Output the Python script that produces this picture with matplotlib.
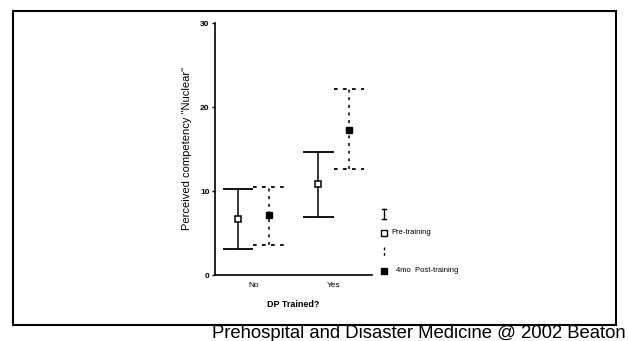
import matplotlib
matplotlib.use("Agg")
import matplotlib.pyplot as plt
from matplotlib.lines import Line2D
from matplotlib.patches import Rectangle

plt.rcParams["font.family"] = ["Liberation Sans", "DejaVu Sans"]

# data
groups = ["No", "Yes"]
pre_mean = [6.7, 10.8]
pre_low = [3.1, 6.9]
pre_high = [10.2, 14.6]
post_mean = [7.1, 17.3]
post_low = [3.6, 12.6]
post_high = [10.5, 22.2]
yticks = [0, 10, 20, 30]

W, H = 628, 341
fig = plt.figure(figsize=(W / 100, H / 100), dpi=100)
ax = fig.add_axes([215 / W, 1 - 275 / H, 157 / W, 252 / H])

off = 0.19
cap = 0.19
xs = list(range(len(groups)))
xpre = [x - off for x in xs]
xpost = [x + off for x in xs]

# pre-training: solid bars
ax.vlines(xpre, pre_low, pre_high, colors="black", lw=1.1)
ax.hlines(pre_low, [x - cap for x in xpre], [x + cap for x in xpre], colors="black", lw=1.3)
ax.hlines(pre_high, [x - cap for x in xpre], [x + cap for x in xpre], colors="black", lw=1.3)
ax.plot(xpre, pre_mean, "s", ms=5, mfc="white", mec="black", mew=1.1, zorder=3)

# post-training: dotted bars
ax.vlines(xpost, post_low, post_high, colors="black", lw=1.1, linestyles=(0, (2, 3)))
ax.hlines(post_low, [x - cap for x in xpost], [x + cap for x in xpost], colors="black", lw=1.3, linestyles=(0, (2, 3)))
ax.hlines(post_high, [x - cap for x in xpost], [x + cap for x in xpost], colors="black", lw=1.3, linestyles=(0, (2, 3)))
ax.plot(xpost, post_mean, "s", ms=4.5, mfc="black", mec="black", zorder=3)

ax.set_xlim(-0.48, 1.48)
ax.set_ylim(0, 30)
ax.set_xticks(xs)
ax.set_xticklabels(groups, fontsize=6)
ax.set_yticks(yticks)
ax.set_yticklabels([str(v) for v in yticks], fontsize=6, fontweight="bold")
ax.tick_params(axis="x", length=0, pad=5)
ax.tick_params(axis="y", length=2, width=1, pad=2)
for s in ["top", "right"]:
    ax.spines[s].set_visible(False)
ax.spines["left"].set_linewidth(1.2)
ax.spines["bottom"].set_linewidth(1.2)
ax.set_ylabel('Perceived competency "Nuclear"', fontsize=8, labelpad=6)
ax.set_xlabel("DP Trained?", fontsize=6.5, fontweight="bold", labelpad=8)

# legend drawn by hand at the right
def fx(px):
    return px / W

def fy(py):
    return 1 - py / H

lx = 384
fig.add_artist(Line2D([fx(lx), fx(lx)], [fy(209), fy(219)], color="black", lw=1, transform=fig.transFigure))
fig.add_artist(Line2D([fx(lx - 2), fx(lx + 2)], [fy(209), fy(209)], color="black", lw=1, transform=fig.transFigure))
fig.add_artist(Line2D([fx(lx - 2), fx(lx + 2)], [fy(219), fy(219)], color="black", lw=1, transform=fig.transFigure))
fig.add_artist(Line2D([fx(lx)], [fy(233)], marker="s", ms=4.5, mfc="white", mec="black", mew=1, transform=fig.transFigure))
fig.text(fx(391), fy(233), "Pre-training", fontsize=5.5, va="center", ha="left")
fig.add_artist(Line2D([fx(lx), fx(lx)], [fy(247), fy(257)], color="black", lw=1, ls=(0, (2, 2)), transform=fig.transFigure))
fig.add_artist(Line2D([fx(lx)], [fy(271)], marker="s", ms=4, mfc="black", mec="black", transform=fig.transFigure))
fig.text(fx(396), fy(271), "4mo  Post-training", fontsize=5.5, va="center", ha="left")

# outer frame and credit line
fig.add_artist(Rectangle((fx(13), fy(325)), fx(616) - fx(13), fy(11) - fy(325),
                         fill=False, ec="black", lw=1.5, transform=fig.transFigure))
fig.text(fx(212), fy(337.5), "Prehospital and Disaster Medicine @ 2002 Beaton", fontsize=13.3,
         va="baseline", ha="left")

plt.savefig("out.png", dpi=100)
